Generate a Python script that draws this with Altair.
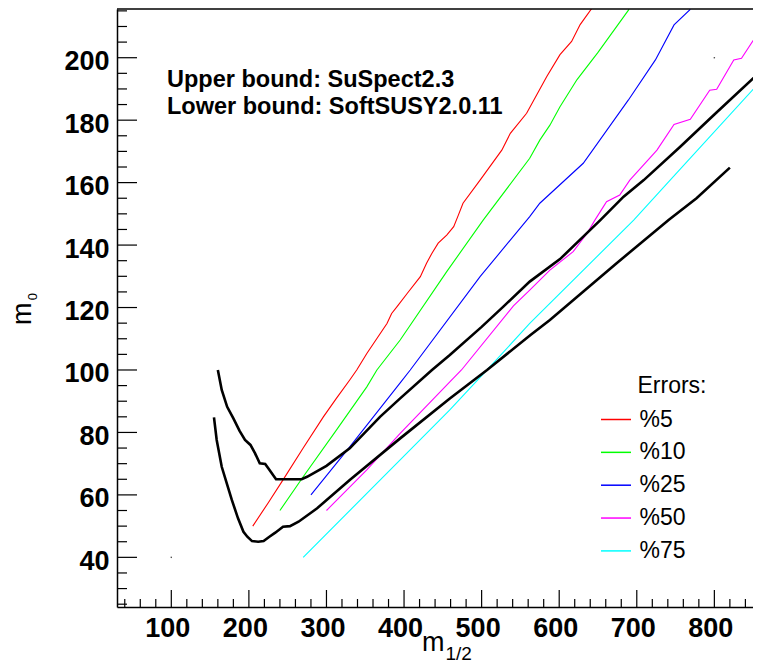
import altair as alt
import pandas as pd

# ---------------- data ----------------
upper_x = [160, 165, 172, 180, 188, 195, 202, 208, 214, 221, 225, 235, 268, 275, 300, 330, 369, 395, 436, 459, 500, 528, 562, 601, 653, 683, 709, 756, 800, 859]
upper_y = [100, 93.6, 88.2, 84.5, 80.5, 77.6, 76, 73.3, 70.1, 69.9, 68.5, 65, 65, 65.8, 69.3, 74.9, 85, 90.9, 100, 104.8, 113.8, 120.3, 128.3, 135.5, 148, 155.5, 160.8, 171.5, 181.8, 195.5]

lower_x = [155, 158.5, 165, 172, 178, 186, 193, 198, 204, 212, 219, 226, 234, 244, 253, 264, 288, 330, 395, 459, 507, 563, 588, 674, 741, 777, 820]
lower_y = [84.8, 77.6, 69, 63.3, 58.4, 52.5, 48.2, 46.6, 45.2, 45, 45.2, 46.5, 47.9, 49.8, 50, 51.4, 55.7, 64.8, 78.1, 90.9, 100, 111.2, 116, 134.2, 148, 155, 164.8]

red_x = [205, 225, 244, 270, 296, 313, 330, 339, 352, 365, 378, 384, 391, 404, 421, 429, 436, 444, 455, 464, 470, 476, 498, 526, 537, 558, 584, 601, 616, 627, 642]
red_y = [50, 57.5, 64.8, 75, 85, 91, 96.8, 100, 105.3, 110.1, 114.9, 118.1, 120.3, 124.5, 129.9, 134.2, 137.4, 140.6, 143.2, 145.9, 149.6, 153.4, 160.8, 170.4, 175.8, 182.2, 194, 201, 205.2, 210.6, 215.8]

green_x = [240, 270, 313, 352, 365, 395, 455, 502, 562, 575, 588, 601, 623, 650, 690]
green_y = [55, 65.8, 80.8, 94.6, 100, 109.6, 131.5, 148, 167.8, 173.6, 178.4, 184.3, 193, 201.7, 215.5]

blue_x = [280, 330, 395, 408, 498, 562, 575, 631, 689, 724, 748, 769]
blue_y = [60, 75.4, 95.9, 100, 129.9, 149.1, 153.4, 166.2, 186.4, 199.3, 210.5, 215.5]

magenta_x = [300, 352, 395, 459, 474, 541, 562, 588, 618, 636, 646, 657, 661, 678, 691, 726, 748, 769, 794, 803, 825, 835, 859]
magenta_y = [55, 68, 79.7, 96.2, 100, 120.5, 125.6, 132, 137.9, 143.8, 148, 152.3, 153.9, 156, 160.8, 170.4, 178.6, 180.3, 189.6, 189.9, 199.3, 199.8, 208.9]

cyan_x = [270, 395, 459, 507, 562, 696, 743, 850]
cyan_y = [40, 71.2, 87.2, 100, 114.9, 148, 160.8, 189.9]

dot_x = [100, 800]
dot_y = [40, 200]

series_names = ["%5", "%10", "%25", "%50", "%75"]
series_colors = ["#ff0000", "#00ff00", "#0000ff", "#ff00ff", "#00ffff"]
bound_names = ["SuSpect2.3", "SoftSUSY2.0.11"]

annotation_lines = ["Upper bound: SuSpect2.3", "Lower bound: SoftSUSY2.0.11"]
legend_title = "Errors:"

x_major = [100, 200, 300, 400, 500, 600, 700, 800]
y_major = [40, 60, 80, 100, 120, 140, 160, 180, 200]
x_minor = [v for v in range(40, 850, 20) if v % 100 != 0]
y_minor = [v for v in range(25, 216, 5) if v % 20 != 0]


def curve_df(name, xs_, ys_):
    return pd.DataFrame({"x": xs_, "y": ys_, "series": name, "idx": list(range(len(xs_)))})


bounds_df = pd.concat([curve_df(bound_names[0], upper_x, upper_y),
                       curve_df(bound_names[1], lower_x, lower_y)], ignore_index=True)
err_df = pd.concat([curve_df(n, xx, yy) for n, xx, yy in zip(
    series_names,
    [red_x, green_x, blue_x, magenta_x, cyan_x],
    [red_y, green_y, blue_y, magenta_y, cyan_y])], ignore_index=True)

# ---------------- layout ----------------
W, H = 636, 598
FONT = "Liberation Sans"

xs = alt.Scale(domain=[30, 849.8], nice=False, zero=False)
ys = alt.Scale(domain=[24.1, 215.6], nice=False, zero=False)

xaxis = alt.Axis(values=x_major, title=None, grid=False, ticks=False, tickSize=0,
                 labelFont=FONT, labelFontWeight="bold", labelFontSize=27,
                 labelPadding=8, labelOffset=-4, labelColor="black",
                 labelFlush=False, labelOverlap=False,
                 domainColor="black", domainWidth=1.5)
yaxis = alt.Axis(values=y_major, title=None, grid=False, ticks=False, tickSize=0,
                 labelFont=FONT, labelFontWeight="bold", labelFontSize=27,
                 labelPadding=8, labelOffset=4, labelColor="black",
                 labelFlush=False, labelOverlap=False,
                 domainColor="black", domainWidth=1.5)


def X():
    return alt.X("x:Q", scale=xs, axis=xaxis)


def Y():
    return alt.Y("y:Q", scale=ys, axis=yaxis)


errors = alt.Chart(err_df).mark_line(strokeWidth=1.1, clip=True).encode(
    x=X(), y=Y(),
    color=alt.Color("series:N",
                    scale=alt.Scale(domain=series_names, range=series_colors),
                    legend=alt.Legend(title=None, orient="none", legendX=483, legendY=394.5,
                                      direction="vertical", symbolType="stroke",
                                      symbolSize=900, symbolStrokeWidth=1.5,
                                      labelFont=FONT, labelFontSize=23, labelColor="black",
                                      labelOffset=7.6, rowPadding=4.85, padding=0)),
    order="idx:Q")

bounds = alt.Chart(bounds_df).mark_line(color="black", strokeWidth=2.6, clip=True).encode(
    x=X(), y=Y(), detail="series:N", order="idx:Q")

tick_style = dict(color="black", strokeWidth=1.2)
xt_major = alt.Chart(pd.DataFrame({"x": x_major})).mark_rule(**tick_style).encode(
    x=X(), y=alt.value(H), y2=alt.value(H - 17))
xt_minor = alt.Chart(pd.DataFrame({"x": x_minor})).mark_rule(**tick_style).encode(
    x=X(), y=alt.value(H), y2=alt.value(H - 8))
yt_major = alt.Chart(pd.DataFrame({"y": y_major})).mark_rule(**tick_style).encode(
    y=Y(), x=alt.value(0), x2=alt.value(20))
yt_minor = alt.Chart(pd.DataFrame({"y": y_minor})).mark_rule(**tick_style).encode(
    y=Y(), x=alt.value(0), x2=alt.value(10))

top_frame = alt.Chart(pd.DataFrame({"x": [30]})).mark_rule(color="black", strokeWidth=1.5).encode(
    x=alt.value(0), x2=alt.value(W), y=alt.value(0))

dots = alt.Chart(pd.DataFrame({"x": dot_x, "y": dot_y})).mark_square(size=2, color="#555555", opacity=1).encode(
    x=X(), y=Y())


def text_layer(txt, px, py, size, weight="normal", angle=0, align="left"):
    return alt.Chart(pd.DataFrame({"t": [txt]})).mark_text(
        align=align, baseline="alphabetic", font=FONT, fontSize=size,
        fontWeight=weight, color="black", angle=angle).encode(
        text="t:N", x=alt.value(px), y=alt.value(py))


annot1 = text_layer(annotation_lines[0], 50, 77.7, 23.5, "bold")
annot2 = text_layer(annotation_lines[1], 50, 105.3, 23.5, "bold")
leg_title = text_layer(legend_title, 520.5, 384.3, 23)
ytitle_m = text_layer("m", -86, 304.7, 27, angle=270, align="center")
ytitle_sub = text_layer("0", -79.7, 287.7, 13, angle=270, align="center")
xtitle_m = text_layer("m", 305, 642, 27)
xtitle_sub = text_layer("1/2", 328.5, 650.5, 19)

chart = alt.layer(
    errors, bounds, xt_major, xt_minor, yt_major, yt_minor, top_frame, dots,
    annot1, annot2, leg_title, ytitle_m, ytitle_sub, xtitle_m, xtitle_sub
).properties(
    width=W, height=H,
    padding={"left": 109, "top": 1, "right": 0, "bottom": 55},
    autosize=alt.AutoSizeParams(type="none"),
    background="white",
).configure_view(strokeWidth=0)

chart.save("out.html", embed_options={"renderer": "svg", "actions": False})
